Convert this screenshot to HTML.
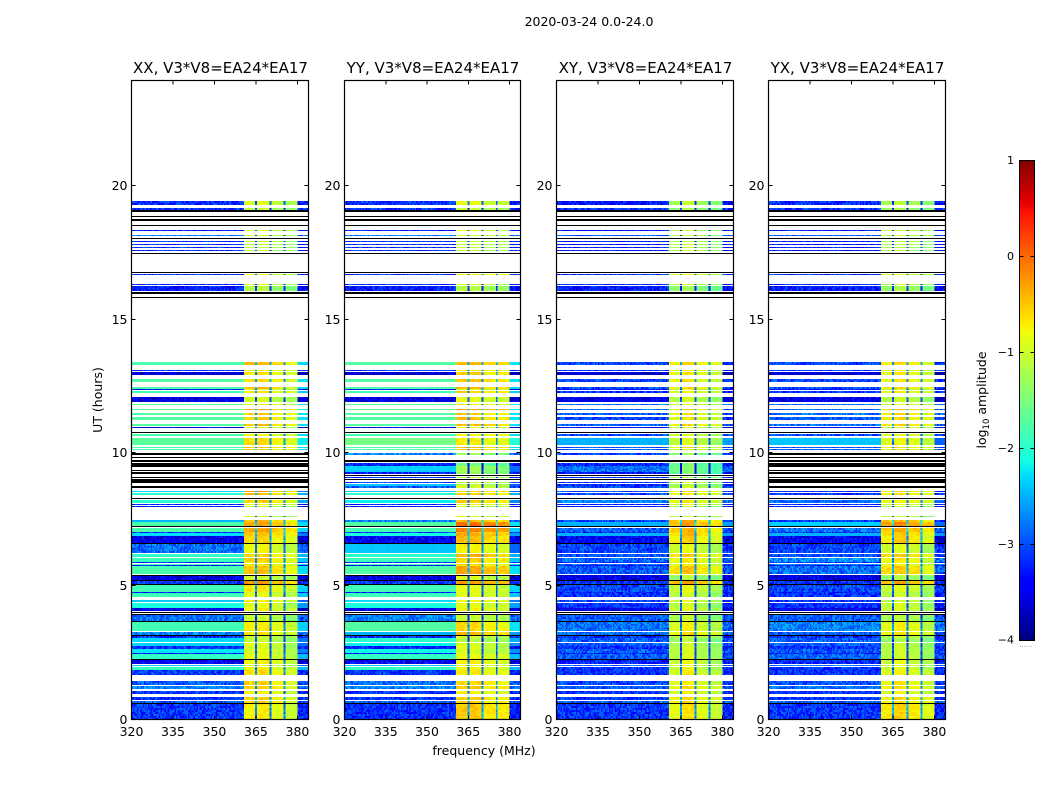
<!DOCTYPE html>
<html lang="en">
<head>
<meta charset="utf-8">
<title>2020-03-24 0.0-24.0</title>
<style>
html,body{margin:0;padding:0;background:#fff;width:1050px;height:800px;overflow:hidden}
svg{display:block}
text{font-family:"DejaVu Sans","Liberation Sans",sans-serif;fill:#000}
</style>
</head>
<body>
<svg id="figure" xmlns="http://www.w3.org/2000/svg" width="1050" height="800" viewBox="0 0 1050 800">
  <rect x="0" y="0" width="1050" height="800" fill="#fff"/>
  <text x="589" y="26" font-size="12.5" text-anchor="middle">2020-03-24 0.0-24.0</text>
  <text x="0" y="0" font-size="12.5" text-anchor="middle" transform="translate(102,400) rotate(-90)">UT (hours)</text>
  <text x="484" y="755" font-size="12.5" text-anchor="middle">frequency (MHz)</text>
  <text x="0" y="0" font-size="12.5" text-anchor="middle" transform="translate(986,400) rotate(-90)">log<tspan font-size="8.5" dy="3">10</tspan><tspan dy="-3"> amplitude</tspan></text>
  <g id="panels"></g>
  <g id="colorbar"></g>
</svg>
<script>
var panelNames = ["XX", "YY", "XY", "YX"];
var panelTitleSuffix = ", V3*V8=EA24*EA17";
var freqTicks = [320, 335, 350, 365, 380];
var hourTicks = [0, 5, 10, 15, 20];
var colorbarTicks = [1, 0, -1, -2, -3, -4];
var channelEdges = [320,320.5,321,321.5,322,322.5,323,323.5,324,324.5,325,325.5,326,326.5,327,327.5,328,328.5,329,329.5,330,330.5,331,331.5,332,332.5,333,333.5,334,334.5,335,335.5,336,336.5,337,337.5,338,338.5,339,339.5,340,340.5,341,341.5,342,342.5,343,343.5,344,344.5,345,345.5,346,346.5,347,347.5,348,348.5,349,349.5,350,350.5,351,351.5,352,352.5,353,353.5,354,354.5,355,355.5,356,356.5,357,357.5,358,358.5,359,359.5,360,360.6,361.5,362.5,363.5,364.7,365.4,366.5,367.5,368.5,369.9,370.6,371.5,372.5,373.5,375,375.7,376.5,377.5,378.5,380,380.5,381,381.5,382,382.5,383,383.5,384];
var bandStart = 360.6;
var bandEnd = 380;
var subbandStarts = [360.6, 365.4, 370.6, 375.7];
var gapStarts = [364.7, 369.9, 375];
var subbandGainXX = [0, 0.05, -0.15, -0.3];
var subbandGainYY = [0.05, 0.05, -0.1, -0.15];
var subbandGainXY = [-0.15, 0.05, -0.2, -0.35];
var subbandGainYX = [-0.15, 0, -0.15, -0.35];

var blockStartBin = [515,510,508,503,499,494,489,484,481,478,
475,472,469,466,447,445,435,429,426,422,
355,349,345,338,331,330,327,318,315,310,
305,300,294,292,287,284,275,272,270,265,
262,259,258,254,253,250,249,248,246,244,
242,240,238,237,234,232,228,225,221,217,
215,213,203,198,194,193,188,187,184,180,
177,176,167,163,158,157,155,154,146,144,
140,139,136,135,128,127,123,118,112,109,
107,105,99,98,89,85,84,82,78,74,
71,67,66,61,60,56,54,50,45,35,
31,26,20,17,16,0];
var blockEndBin = [519,512,510,504,501,495,490,485,482,479,
476,473,470,467,448,446,436,434,428,423,
358,350,348,341,333,331,329,323,316,311,
307,303,296,293,288,286,282,273,271,267,
263,260,259,257,254,253,250,249,248,245,
243,241,240,238,236,234,229,227,222,220,
216,214,204,200,198,194,192,188,187,184,
180,177,176,166,162,158,156,155,154,145,
144,140,139,136,135,128,127,120,117,112,
108,106,105,99,98,88,85,84,82,77,
74,71,67,66,61,60,55,53,50,39,
34,29,23,19,17,16];
var hoursPerBin = 0.0375;

var xxLow = [-3.05,-3,-9,-9,-9,-9,-3.1,-2.6,-9,-3,
-3,-3,-3,-9,-9,-3,-3.1,-3.15,-9,-9,
-1.8,-3,-3.5,-1.75,-1.8,-3.2,-1.85,-3.4,-1.7,-1.7,
-1.75,-1.75,-1.75,-3.3,-9,-1.8,-1.7,-1.8,-1.8,-9,
-9,-9,-9,-9,-9,null,-9,null,-9,null,
-9,-9,-9,-9,null,-9,-2.3,-2,-9,-2,
-3.1,-3.2,null,-2.5,-1.8,-9,-1.8,-3,-2.3,-3.4,
-3.4,-9,-2.7,-1.95,-1.9,-3,-1.8,-3.1,-1.8,-9,
-3.4,-9,-3,-9,-1.85,-3.1,-1.9,-2.4,-2.1,-3.4,
-9,-9,-2.7,-9,-1.85,-2.6,-9,-3,-2.3,-2.35,
-3,-2.25,-3.1,-1.95,-9,-3.35,-2.4,-1.95,-2.95,-2.8,
-2.6,-3,-3,-2.8,-9,-3];
var xxHigh = [-0.95,-1.1,null,null,null,null,-1,-1,null,-1.1,
-1.1,-1.1,-1.1,null,null,-0.9,-1,-1.2,null,null,
-0.5,-0.8,-0.7,-0.65,-0.5,-1,-0.7,-1,-0.8,-0.4,
-0.6,-0.6,-0.5,-1,null,-0.8,-0.65,-0.5,-0.6,null,
null,null,null,null,null,null,null,null,null,null,
null,null,null,null,null,null,-0.35,-0.5,null,-0.6,
-0.8,-1.1,-1,-0.5,-0.35,null,-0.35,-0.5,-0.5,-0.6,
-0.6,null,-0.85,-0.6,-0.6,-0.8,-0.6,-0.8,-0.5,null,
-1,null,-0.3,null,-0.7,-1,-0.85,-0.7,-0.9,-0.8,
null,null,-1.1,null,-0.75,-0.7,null,-1,-1.1,-0.9,
-1,-0.9,-1,-0.85,null,-0.8,-0.9,-0.8,-0.65,-0.6,
-0.6,-0.8,-0.6,-0.6,null,-0.75];

var yyLow = [-3.05,-3,-9,-9,-9,-9,-3.1,-2.6,-9,-3,
-3,-3,-3,-9,-9,-3,-3.1,-3.15,-9,-9,
-1.75,-3,-3.5,-1.75,-1.8,-3.2,-1.85,-3.4,-1.7,-1.7,
-1.75,-1.75,-1.75,-3.3,-9,-1.8,-1.55,-1.8,-1.8,-2.6,
null,-9,-9,-3.1,-2.3,-2.35,-2.35,-2.4,-3.1,-9,
-3,-9,null,-2.9,-2.4,-2.8,-2.4,-2,-9,-2.2,
-3.1,-3.2,null,-2.6,-1.75,-9,-1.85,-3,-2.1,-3.3,
-3.3,-9,-2.4,-2,-1.9,-3,-1.8,-3.1,-1.75,-9,
-3.4,-9,-3,-9,-1.85,-3.1,-1.9,-2.3,-2.1,-3.4,
-9,-9,-2.6,-9,-1.75,-2.5,-9,-3,-2,-2.2,
-3.1,-2.15,-3.1,-1.95,-9,-3.3,-2.4,-1.95,-3,-2.7,
-2.6,-3,-3,-2.8,-9,-3.05];
var yyHigh = [-0.9,-1.1,null,null,null,null,-1,-1,null,-1.1,
-1.1,-1.1,-1.1,null,null,-0.8,-1,-1.2,null,null,
-0.5,-0.7,-0.6,-0.55,-0.5,-1,-0.6,-0.9,-0.8,-0.35,
-0.6,-0.55,-0.5,-1,null,-0.8,-0.75,-0.5,-0.6,-1.3,
null,null,null,-1.6,-1.3,-1.3,-1.3,-1.3,-1.4,null,
-1.2,null,null,-1.1,-1.1,-1,-0.6,-0.6,null,-0.6,
-0.8,-1.1,-1,-0.5,-0.05,null,-0.15,-0.5,-0.4,-0.5,
-0.5,null,-0.8,-0.45,-0.6,-0.8,-0.6,-0.8,-0.4,null,
-1,null,-0.3,null,-0.9,-1,-0.9,-0.8,-0.9,-0.8,
null,null,-1.1,null,-0.65,-0.5,null,-1,-1.2,-1,
-1,-1,-1,-0.85,null,-0.8,-0.9,-0.85,-0.75,-0.65,
-0.6,-0.8,-0.6,-0.6,null,-0.55];

var xyLow = [-3.2,-3,-9,-9,-9,-9,-3.1,-2.8,-9,-3.1,
-3.1,-3.1,-3.1,-9,-9,-3,-3.1,-3.15,-9,-9,
-2.9,-3,-3.5,-2.9,-2.9,-3.2,-3,-3.4,-2.7,-2.7,
-2.8,-2.9,-2.8,-3.3,-9,-2.9,-2.5,-2.8,-2.8,-2.9,
null,-9,-9,-3.1,-2.7,-2.7,-2.7,-2.7,-3.2,-9,
-3,-9,null,-3,-3,-2.9,-2.9,-2.9,-9,-2.6,
-3.1,-3.2,null,-2.9,-2.5,-9,-2.8,-3,-2.5,-3.3,
-3.3,-9,-2.9,-2.85,-2.75,-3,-2.8,-3.1,-2.8,-3.5,
-3.4,-9,-3,-9,-2.9,-3.1,-3,-2.9,-3,-3.4,
-9,-9,-2.8,-9,-2.7,-2.7,-9,-3,-2.8,-2.8,
-3,-2.8,-3.1,-2.8,-9,-3.1,-2.8,-3,-3,-2.9,
-2.8,-3,-3,-2.8,-9,-3];
var xyHigh = [-1.1,-1.2,null,null,null,null,-1.1,-1.1,null,-1.1,
-1.05,-1.05,-1,null,null,-0.8,-1,-1.3,null,null,
-0.6,-0.8,-0.7,-0.7,-0.6,-1,-0.8,-1,-0.9,-0.6,
-0.7,-0.7,-0.6,-1,null,-0.9,-0.95,-0.7,-0.8,-1.3,
null,null,null,-1.5,-1.5,-1.45,-1.45,-1.45,-1.5,null,
-1.2,null,null,-1,-1.1,-1,-0.6,-0.7,null,-0.7,
-0.8,-1.1,-1,-0.4,-0.3,null,-0.4,-0.5,-0.5,-0.6,
-0.6,null,-0.9,-0.55,-0.7,-0.8,-0.7,-0.8,-0.5,-1,
-1.2,null,-0.3,null,-0.9,-1,-1,-0.9,-1,-0.9,
null,null,-1.1,null,-0.8,-0.65,null,-1,-1.2,-1.05,
-1,-1,-1,-1,null,-0.9,-0.9,-0.9,-0.75,-0.75,
-0.65,-0.8,-0.6,-0.65,null,-0.7];

var yxLow = [-3.05,-3,-9,-9,-9,-9,-3.1,-2.8,-9,-3.1,
-3.1,-3.1,-3.1,-9,-9,-3,-3.1,-3.15,-9,-9,
-2.9,-3,-3.5,-2.9,-2.9,-3.2,-3,-3.4,-2.7,-2.7,
-2.7,-2.8,-2.7,-3.3,-9,-2.9,-2.4,-2.8,-2.8,-9,
-9,-9,-9,-9,-9,null,-9,null,-9,null,
-9,-9,-9,-9,null,-9,-3,-3,-9,-2.7,
-3.1,-3.2,null,-3,-2.35,-9,-2.7,-3,-2.5,-3.3,
-3.3,-9,-2.9,-2.85,-2.55,-3,-2.6,-3.1,-2.7,-3.5,
-3.4,-9,-3,-9,-2.9,-3.1,-3,-3,-3,-3.4,
-9,-9,-2.8,-9,-2.6,-2.8,-9,-3,-2.8,-2.8,
-3,-2.8,-3.1,-2.75,-9,-3.1,-2.7,-3,-3,-2.85,
-2.7,-3,-3,-2.8,-9,-3];
var yxHigh = [-1.1,-1.2,null,null,null,null,-1,-1,null,-1.1,
-1.1,-1.1,-1.1,null,null,-0.85,-1,-1.2,null,null,
-0.6,-0.8,-0.7,-0.65,-0.55,-1,-0.7,-1,-0.9,-0.5,
-0.6,-0.6,-0.55,-1,null,-0.85,-0.75,-0.6,-0.7,null,
null,null,null,null,null,null,null,null,null,null,
null,null,null,null,null,null,-0.5,-0.6,null,-0.7,
-0.8,-1.1,-1,-0.4,-0.15,null,-0.35,-0.5,-0.5,-0.6,
-0.5,null,-0.9,-0.5,-0.7,-0.8,-0.7,-0.8,-0.5,-1,
-1.2,null,-0.3,null,-0.9,-1,-1,-1,-0.95,-0.9,
null,null,-1.1,null,-0.75,-0.65,null,-1,-1.2,-1.05,
-1,-1,-1,-1,null,-0.9,-0.9,-0.9,-0.75,-0.65,
-0.6,-0.8,-0.6,-0.6,null,-0.55];

var grainTile = [0.6,-0.9,0.2,1,-0.4,-0.7,0.8,-0.1,0.4,-1,0.9,-0.3,0.1,-0.6,0.7,1,-0.8,0.3,-0.2,0.5,-0.5,-1,0.9,0.2,-0.7,0.6,-0.4,0.8,0,-0.9,0.4,-0.1,1,-0.6,0.3,-0.3,0.7];

var lowByPanel = [xxLow, yyLow, xyLow, yxLow];
var highByPanel = [xxHigh, yyHigh, xyHigh, yxHigh];
var gainByPanel = [subbandGainXX, subbandGainYY, subbandGainXY, subbandGainYX];
var panelLeft = [131.5, 344.5, 556.5, 768.5];
var panelRight = [308.5, 520.5, 733.5, 945.5];
var SVG_NS = "http://www.w3.org/2000/svg";
var FREQ_MIN = 320, FREQ_MAX = 384, HOUR_MAX = 24, VALUE_MIN = -4, VALUE_MAX = 1;

function xScale(p, f) { return panelLeft[p] + (f - FREQ_MIN) / (FREQ_MAX - FREQ_MIN) * (panelRight[p] - panelLeft[p]); }
function yScale(h) { return 720 - h / HOUR_MAX * 640; }
function lerpStops(t, s) {
  for (var i = 1; i < s.length; i++) {
    if (t <= s[i][0]) { return s[i-1][1] + (s[i][1] - s[i-1][1]) * (t - s[i-1][0]) / (s[i][0] - s[i-1][0]); }
  }
  return s[s.length-1][1];
}
var jetR = [[0,0],[0.35,0],[0.66,1],[0.89,1],[1,0.5]];
var jetG = [[0,0],[0.125,0],[0.375,1],[0.64,1],[0.91,0],[1,0]];
var jetB = [[0,0.5],[0.11,1],[0.34,1],[0.65,0],[1,0]];
function colorOf(v) {
  if (v < VALUE_MIN - 1) { return "#000"; }
  var t = Math.max(0, Math.min(1, (v - VALUE_MIN) / (VALUE_MAX - VALUE_MIN)));
  return "rgb(" + Math.round(255*lerpStops(t, jetR)) + "," + Math.round(255*lerpStops(t, jetG)) + "," + Math.round(255*lerpStops(t, jetB)) + ")";
}
function make(tag, attrs, parent) {
  var el = document.createElementNS(SVG_NS, tag);
  for (var k in attrs) { el.setAttribute(k, attrs[k]); }
  parent.appendChild(el);
  return el;
}
function cellValue(p, low, high, f, grain) {
  if (f >= bandStart && f < bandEnd) {
    if (high === null) { return low === null ? null : low; }
    if (gapStarts.indexOf(f) >= 0) { return high - 2 + grain * 0.2; }
    var sb = 0;
    for (var i = 0; i < subbandStarts.length; i++) { if (f >= subbandStarts[i]) { sb = i; } }
    return high + gainByPanel[p][sb] + grain * 0.1;
  }
  if (low === null) { return null; }
  var base = low < -2.5 ? low - 0.15 : low;
  var amp = low < -2.5 ? 0.32 : 0.03;
  if (f >= bandEnd) { return (low > -2.5 ? low - 0.5 : base - 0.1) + grain * amp; }
  return base + grain * amp;
}

function drawPanel(p) {
  var root = document.getElementById("panels");
  var g = make("g", {}, root);
  
  
  var cells = make("g", {"shape-rendering": "crispEdges"}, g);
  
  
  var lows = lowByPanel[p], highs = highByPanel[p];
  var rowCounter = p * 11;
  for (var b = 0; b < blockStartBin.length; b++) {
    var low = lows[b], high = highs[b];
    if (low === null && high === null) { continue; }
    var h0 = blockStartBin[b] * hoursPerBin, h1 = blockEndBin[b] * hoursPerBin;
    if (low !== null && low < VALUE_MIN - 1) {
      var flagged = make("rect", {x: panelLeft[p], y: yScale(h1), width: panelRight[p] - panelLeft[p], height: yScale(h0) - yScale(h1), fill: colorOf(low)}, cells);
      
      
      continue;
    }
    var bins = blockEndBin[b] - blockStartBin[b];
    var rows = Math.max(1, Math.round(bins / 2));
    for (var r = 0; r < rows; r++) {
      rowCounter++;
      var ha = h0 + (h1 - h0) * r / rows, hb = h0 + (h1 - h0) * (r + 1) / rows;
      for (var c = 0; c < channelEdges.length - 1; c++) {
        var f = channelEdges[c];
        var grain = grainTile[(rowCounter * 17 + c * 11 + (c * rowCounter) % 7) % grainTile.length];
        var v = cellValue(p, low, high, f, grain);
        if (v === null) { continue; }
        var cell = make("rect", {x: xScale(p, f), y: yScale(hb), width: xScale(p, channelEdges[c+1]) - xScale(p, f), height: yScale(ha) - yScale(hb), fill: colorOf(v)}, cells);
        
        
      }
    }
  }
  var left = panelLeft[p], right = panelRight[p];
  var axes = make("g", {stroke: "#000", "stroke-width": 1, "shape-rendering": "crispEdges", fill: "none"}, g);
  
  
  freqTicks.forEach(function (f) {
    var x = xScale(p, f);
    var tb = make("line", {x1: x, x2: x, y1: 719.5, y2: 715.5}, axes);
    
    
    var tt = make("line", {x1: x, x2: x, y1: 80.5, y2: 84.5}, axes);
    
    
    var lab = make("text", {x: x, y: 736, "font-size": 12.5, "text-anchor": "middle"}, g);
    lab.textContent = String(f);
    
    
  });
  hourTicks.forEach(function (h) {
    var y = Math.floor(yScale(h)) - 0.5;
    var tl = make("line", {x1: left, x2: left + 4, y1: y, y2: y}, axes);
    
    
    var tr = make("line", {x1: right, x2: right - 4, y1: y, y2: y}, axes);
    
    
    var lab = make("text", {x: left - 4, y: y + 4.5, "font-size": 12.5, "text-anchor": "end"}, g);
    lab.textContent = String(h);
    
    
  });
  var frame = make("rect", {x: left, y: 80.5, width: right - left, height: 639, fill: "none", stroke: "#000", "stroke-width": 1.2}, g);
  
  
  var title = make("text", {x: (left + right) / 2 + 0.5, y: 73, "font-size": 15, "text-anchor": "middle"}, g);
  title.textContent = panelNames[p] + panelTitleSuffix;
  
  
}
for (var pi = 0; pi < panelNames.length; pi++) { drawPanel(pi); }

function cbY(v) { return 160 + (VALUE_MAX - v) / (VALUE_MAX - VALUE_MIN) * 480; }
(function drawColorbar() {
  var g = document.getElementById("colorbar");
  var ramp = make("g", {"shape-rendering": "crispEdges"}, g);
  
  
  var steps = 240;
  for (var i = 0; i < steps; i++) {
    var v0 = VALUE_MIN + (VALUE_MAX - VALUE_MIN) * i / steps;
    var v1 = VALUE_MIN + (VALUE_MAX - VALUE_MIN) * (i + 1) / steps;
    var s = make("rect", {x: 1019.5, y: cbY(v1), width: 15, height: cbY(v0) - cbY(v1), fill: colorOf((v0 + v1) / 2)}, ramp);
    
    
  }
  var frame = make("rect", {x: 1019.5, y: 160.5, width: 15, height: 480, fill: "none", stroke: "#000", "stroke-width": 1}, g);
  
  
  colorbarTicks.forEach(function (v) {
    var y = Math.min(640, Math.max(160.5, cbY(v) + 0.5));
    var a = make("line", {x1: 1019.5, x2: 1023.5, y1: y, y2: y, stroke: "#000", "stroke-width": 1}, g);
    
    
    var b = make("line", {x1: 1034.5, x2: 1030.5, y1: y, y2: y, stroke: "#000", "stroke-width": 1}, g);
    
    
    var lab = make("text", {x: 1014, y: y + 3.5, "font-size": 11, "text-anchor": "end"}, g);
    lab.textContent = v < 0 ? "\u2212" + Math.abs(v) : String(v);
    
    
  });
  var dots = make("text", {x: 1026, y: 647, "font-size": 7, "text-anchor": "middle", style: "fill:#888"}, g);
  dots.textContent = "......";
  
  
})();
</script>
</body>
</html>
